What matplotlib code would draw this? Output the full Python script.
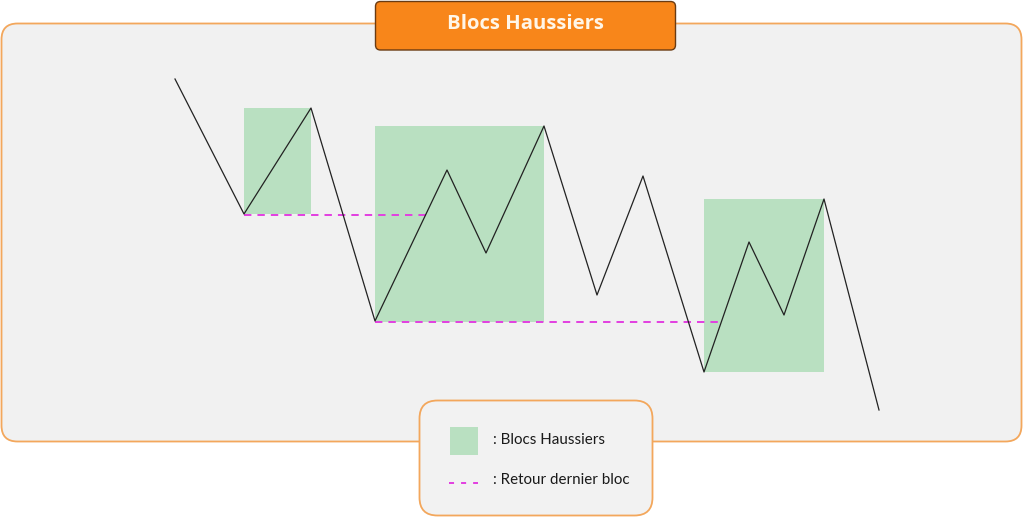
import matplotlib
matplotlib.use("Agg")
import matplotlib.pyplot as plt
from matplotlib.patches import FancyBboxPatch, Rectangle

# price path (pixel coordinates of the sketch, y grows downward)
path_x = [175, 244, 311, 375, 447, 486, 544, 597, 643, 704, 749, 784, 824, 879]
path_y = [79, 214, 108, 321, 170, 253, 126, 295, 176, 372, 242, 315, 199, 410]

# bullish blocks: left, top, right, bottom
bloc_left = [244, 375, 704]
bloc_top = [108, 126, 199]
bloc_right = [311, 544, 824]
bloc_bottom = [214, 322, 372]

# return to last block (dashed lines)
retour_x0 = [244, 375]
retour_x1 = [426, 721]
retour_y = [214.5, 322]

title = "Blocs Haussiers"
legend_labels = [": Blocs Haussiers", ": Retour dernier bloc"]

green = "#b9e0c1"
magenta = "#e23fe0"
orange_edge = "#f3a75c"

fig = plt.figure(figsize=(10.24, 5.17), dpi=100)
ax = fig.add_axes([0, 0, 1, 1])
ax.set_xlim(0, 1024)
ax.set_ylim(517, 0)
ax.axis("off")

# main panel
ax.add_patch(FancyBboxPatch((1.5, 23.5), 1020, 418, boxstyle="round,pad=0,rounding_size=16",
                            fc="#f1f1f1", ec=orange_edge, lw=1.3, zorder=0))

# blocks
for l, t, r, b in zip(bloc_left, bloc_top, bloc_right, bloc_bottom):
    ax.add_patch(Rectangle((l, t), r - l, b - t, fc=green, ec="none", zorder=1))

ax.plot(path_x, path_y, color="#222222", lw=0.9, zorder=3)

for x0, x1, y in zip(retour_x0, retour_x1, retour_y):
    ax.plot([x0, x1], [y, y], color=magenta, lw=1.4, dashes=(3.8, 3.1), zorder=2)

# title box
ax.add_patch(FancyBboxPatch((375.5, 1.5), 300, 48.5, boxstyle="round,pad=0,rounding_size=5",
                            fc="#f8861a", ec="#6a3b12", lw=1.0, zorder=4))
ax.text(525, 24, title, color="#fff6e8", fontsize=14.6, fontweight="bold",
        family="Open Sans", ha="center", va="center", zorder=5)

# legend box
ax.add_patch(FancyBboxPatch((419.5, 400.5), 233, 115, boxstyle="round,pad=0,rounding_size=18",
                            fc="#f2f2f2", ec=orange_edge, lw=1.3, zorder=4))
ax.add_patch(Rectangle((450, 427), 28, 28, fc=green, ec="none", zorder=5))
ax.plot([449, 478], [482.5, 482.5], color=magenta, lw=1.4, dashes=(2.6, 3.6), zorder=5)
ax.text(493, 440, legend_labels[0], fontsize=10.9, family="Lato", color="#1a1a1a",
        ha="left", va="center", zorder=5)
ax.text(493, 480, legend_labels[1], fontsize=10.9, family="Lato", color="#1a1a1a",
        ha="left", va="center", zorder=5)

fig.savefig("out.png", dpi=100, facecolor="white")
